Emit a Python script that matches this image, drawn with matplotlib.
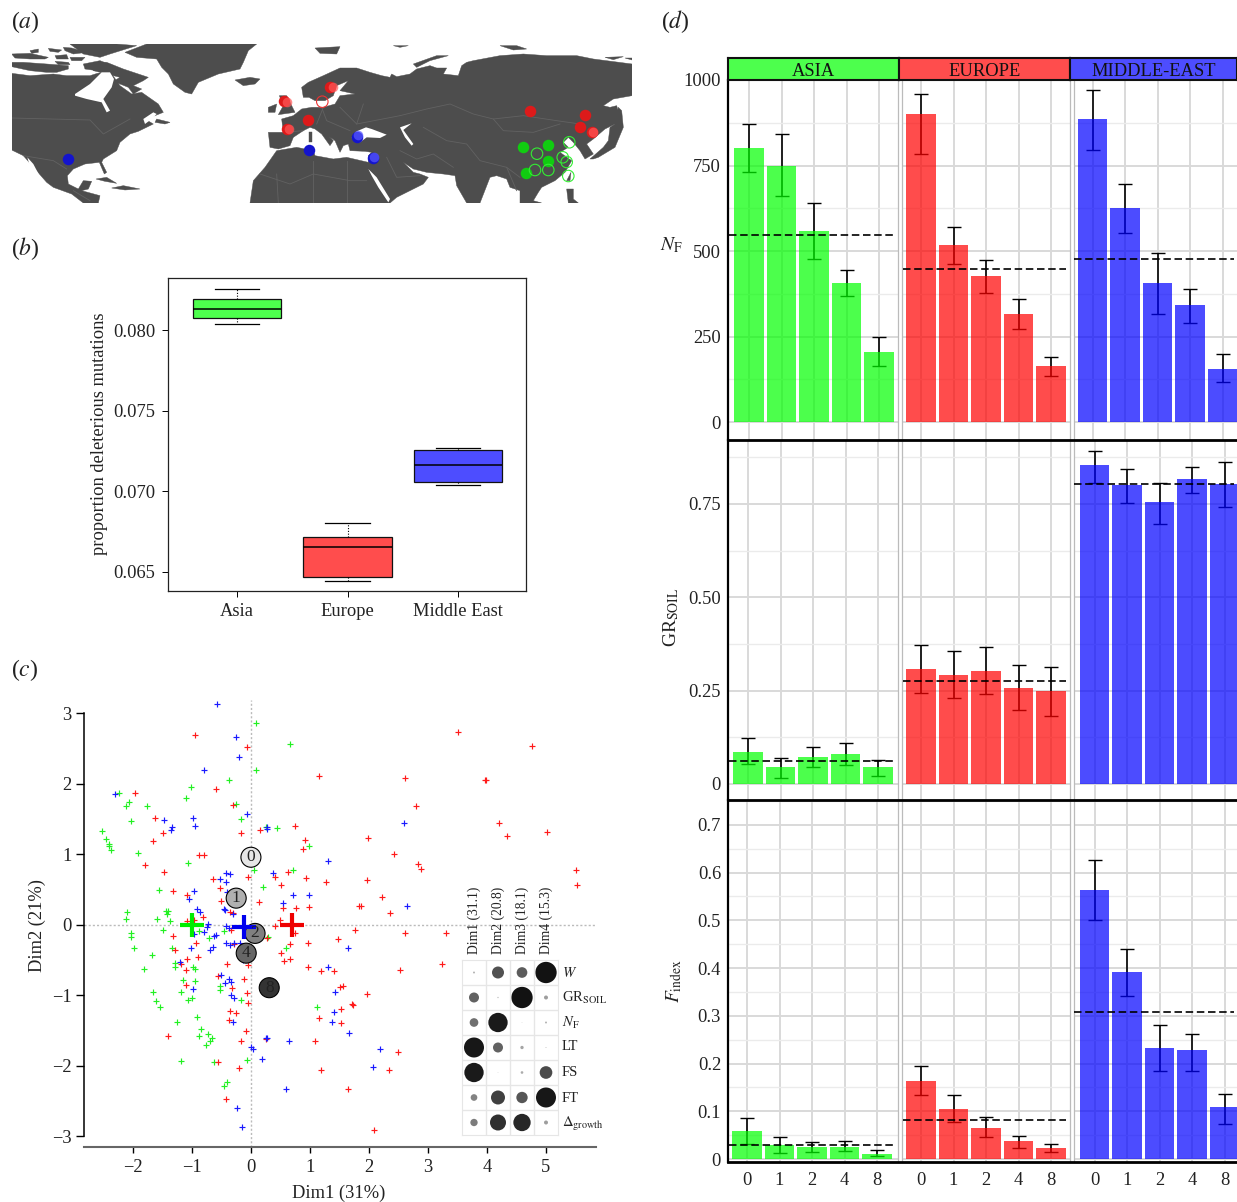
import numpy as np
import matplotlib
matplotlib.use("Agg")
import matplotlib.pyplot as plt
from matplotlib.lines import Line2D
from matplotlib.patches import Polygon

plt.rcParams["font.family"] = ["Liberation Serif", "DejaVu Serif"]
plt.rcParams["mathtext.fontset"] = "stix"
plt.rcParams["font.size"] = 13.3

W, H = 1237, 1202
GREEN, RED, BLUE = "#4dff4d", "#ff4d4d", "#4d4dff"
TXT = "#222222"

# (a) map outlines, traced at 3x from two crops of the picture (west and east part)
west_land = [
    [(5,88),(60,95),(130,90),(170,95),(240,95),(262,88),(300,82),(330,125),(365,150),(395,145),(445,180),(460,205),
     (435,215),(405,225),(430,240),(385,262),(360,270),(330,295),(320,320),(280,345),(275,355),(290,385),(283,390),
     (268,355),(225,360),(190,375),(172,395),(175,420),(205,435),(220,410),(245,412),(235,435),(215,440),(270,455),
     (265,477),(220,477),(185,450),(130,430),(110,415),(75,375),(40,335),(5,318)],
    [(5,30),(60,28),(115,40),(105,45),(60,45),(15,42)],
    [(60,20),(85,15),(85,25),(65,28)],
    [(115,13),(155,18),(145,25),(120,22)],
    [(135,35),(170,32),(175,45),(140,45)],
    [(160,10),(185,12),(230,25),(190,30),(165,20)],
    [(180,0),(320,0),(380,5),(300,30),(270,40),(220,30)],
    [(180,40),(225,40),(215,50),(185,50)],
    [(220,60),(270,50),(310,65),(340,85),(305,85),(260,80),(225,75)],
    [(5,55),(40,55),(110,60),(175,65),(175,75),(140,85),(110,85),(60,80),(5,68)],
    [(135,52),(175,55),(180,62),(145,62)],
    [(245,62),(290,55),(340,75),(415,100),(400,110),(370,125),(395,135),(370,150),(355,130),(310,112),(330,100),(290,90),(250,80)],
    [(250,110),(280,115),(275,125),(250,122)],
    [(440,225),(480,235),(465,240),(435,235)],
    [(258,405),(290,400),(320,418),(285,412)],
    [(305,432),(340,425),(390,435),(345,438)],
    [(345,25),(410,0),(740,0),(715,20),(700,55),(690,75),(625,90),(565,115),(545,150),(525,145),(490,120),(475,90),
     (455,70),(440,45),(380,40)],
    [(675,108),(720,100),(750,105),(735,120),(700,125)],
]
west_sea = [
    [(195,150),(240,120),(275,85),(300,85),(312,105),(305,130),(280,165),(300,200),(290,205),(275,175),(230,165),(195,155)],
    [(52,340),(70,360),(90,398),(85,402),(62,375)],
    [(400,225),(430,205),(440,210),(425,225),(405,240)],
]
west_borders = [[(5,222),(240,228),(280,270),(360,225)], [(40,335),(130,350),(170,375)], [(190,440),(240,470)]]
east_land = [
    [(185,130),(205,115),(250,95),(300,72),(350,72),(390,85),(425,95),(450,100),(455,90),(470,98),(510,90),(530,75),
     (570,65),(590,72),(620,72),(610,90),(655,95),(665,65),(680,55),(700,50),(780,35),(850,30),(920,35),(1010,35),
     (1060,45),(1176,60),(1176,155),(1120,165),(1090,185),(1110,190),(1130,185),(1145,235),(1125,240),(1095,255),
     (1060,285),(1040,300),(1060,330),(1035,345),(1020,320),(1000,295),(985,280),(970,295),(985,310),(960,325),
     (995,350),(975,385),(945,410),(905,430),(895,445),(880,470),(905,477),(840,477),(840,440),(810,430),(800,405),
     (770,395),(750,400),(720,477),(680,477),(650,425),(645,395),(610,390),(560,385),(520,375),(490,355),(520,385),
     (540,390),(565,400),(550,420),(470,460),(450,477),(30,477),(40,410),(75,370),(110,320),(170,310),(220,320),
     (225,335),(280,345),(320,340),(385,355),(385,335),(395,325),(375,322),(330,320),(325,300),(310,305),(300,325),
     (285,290),(250,265),(240,250),(280,290),(270,305),(245,270),(225,255),(210,250),(190,260),(160,280),(150,305),
     (115,315),(90,310),(85,265),(130,265),(125,225),(160,215),(185,195),(215,190),(250,190),(285,180),(300,155),
     (345,150),(300,140),(325,110),(290,125),(280,155),(255,170),(225,170),(207,160),(190,160)],
    [(118,155),(140,155),(165,205),(115,212),(130,185)],
    [(85,190),(110,180),(105,205),(85,205)],
    [(1050,345),(1090,310),(1105,290),(1110,250),(1125,240),(1135,190),(1145,200),(1150,250),(1125,310),(1075,340),(1060,345)],
    [(980,410),(993,385),(990,410)],
    [(980,435),(1000,435),(1000,465),(1015,477),(985,477)],
    [(208,265),(215,265),(215,295),(208,295)],
    [(520,60),(590,35),(625,35),(570,50),(530,70)],
    [(225,12),(300,8),(290,30),(240,28)],
    [(460,5),(505,5),(480,10)],
    [(780,5),(830,5),(860,15),(820,18)],
    [(1095,40),(1150,38),(1120,47)],
    [(1155,42),(1175,42),(1175,47)],
]
east_sea = [
    [(335,282),(350,262),(378,250),(395,255),(440,272),(420,282),(380,280),(360,295)],
    [(480,250),(515,238),(490,258),(520,300),(515,305),(495,280)],
    [(385,375),(410,400),(450,465),(445,475),(415,430),(395,395)],
]
east_borders = [[(480,215),(560,195),(630,180),(700,210),(760,225),(850,215),(950,230),(1020,240)],
                [(760,225),(790,260),(880,265),(960,240)], [(550,250),(620,290),(680,300),(720,350),(800,370),(840,400)],
                [(245,190),(260,230),(330,260)], [(300,190),(350,240),(480,215)], [(130,265),(190,260)],
                [(60,390),(150,420),(220,390),(330,410),(380,410)], [(110,390),(115,477)], [(220,350),(220,477)],
                [(320,350),(320,477)], [(480,320),(530,345),(580,330),(640,370)], [(800,370),(830,440)],
                [(250,190),(230,240)], [(350,240),(370,180)], [(440,340),(470,400),(540,395)]]
map_red = [(284,101),(330,87),(287,129),(307.7,120.3),(530,111),(585,115),(580.3,126.7),(592,132)]
map_red_light = [(287,102),(333,87),(289,129),(593,132)]
map_red_open = [(322.3,101.7)]
map_blue = [(68,159),(357,137),(309.3,149.7),(373.3,157.7)]
map_blue_light = [(358,135),(374,157)]
map_green = [(523.3,147.3),(548.3,144.7),(548,161.3),(525.7,173.3)]
map_green_open = [(569.3,142.3),(537,153.7),(562.7,157.3),(566.7,162),(535,170),(548.3,170),(568.3,176)]

# (b) boxplots
box_names = ["Asia", "Europe", "Middle East"]
box_q1 = [0.08075, 0.06463, 0.07055]
box_med = [0.0813, 0.0665, 0.0716]
box_q3 = [0.08193, 0.06712, 0.07255]
box_lo = [0.08037, 0.06444, 0.07035]
box_hi = [0.08255, 0.0680, 0.07267]

# (c) individuals on the first two dimensions
pca_blue_x = [-.57,-.25,-.20,-.80,-2.31,-.06,-.98,-1.47,-.94,-1.33,-1.36,.27,.28,1.31,-.43,-.35,.38,-.53,-.42,-.41,-.97,-1.05,.71,.99,.54,-.91,-.86,-.46,-.44,-.31,-.72,-.75,-.80,-.43,-.38,-.97,-.60,-.63,1.65,-1.02,-.65,-.43,-.36,-.29,-.19,-.69,-1.21,-.14,1.30,-.51,-.37,-.44,-.33,-.99,1.42,-.34,-.28,1.41,1.37,-.30,1.66,.25,.27,.65,0,.03,.19,.59,-.23,-.15,2.59,2.65,2.18,2.07]
pca_blue_y = [3.13,2.66,2.38,2.20,1.86,1.57,1.51,1.49,1.40,1.39,1.35,1.39,1.36,.91,.74,.72,.73,.65,.61,.47,.48,.37,.43,.43,.31,.22,.18,.22,.21,.15,.01,-.03,-.10,-.01,-.05,-.13,-.14,-.16,-.32,-.32,-.31,-.26,-.28,-.25,-.25,-.35,-.53,-.50,-.60,-.71,-.77,-.82,-.81,-.91,-.95,-.99,-1.03,-1.23,-1.38,-1.38,-1.53,-1.61,-1.60,-1.64,-1.73,-1.76,-1.90,-2.33,-2.60,-2.86,1.45,.27,-1.76,-2.01]
pca_green_x = [.09,.66,.08,-.38,-1.02,-2.24,-1.10,-2.06,-2.12,-1.76,-.26,-.16,-2.03,.25,.45,-2.52,-2.45,-2.41,-2.41,-2.38,.99,-1.91,-1.07,.05,.72,-1.56,.20,-2.10,-1.44,-1.41,-1.42,-2.12,-1.59,-1.37,-1.49,-.88,-2.03,-2.03,-.71,-.46,-1.98,-1.33,.29,.60,-1.28,-1.28,-1.81,-.99,-.94,-1.68,-1.15,-.95,-.52,-.52,-1.66,-1.18,-1.0,-1.07,-1.61,-.17,-1.55,1.12,-.91,-1.25,-.84,-.88,-.72,-.66,-.70,-.77,-1.18,-.62,-.07,-.41,-.45]
pca_green_y = [2.87,2.56,2.20,2.06,1.95,1.87,1.80,1.75,1.68,1.69,1.72,1.50,1.47,1.39,1.38,1.33,1.22,1.15,1.12,1.06,1.12,1.02,.88,.78,.78,.50,.54,.18,.20,.20,.16,.08,.08,.06,-.07,-.09,-.12,-.17,-.19,-.09,-.32,-.33,-.17,-.33,-.54,-.59,-.63,-.60,-.63,-.43,-.78,-.79,-.86,-.92,-.95,-.95,-1.04,-1.07,-1.08,-1.07,-1.17,-1.16,-1.31,-1.38,-1.47,-1.58,-1.55,-1.61,-1.64,-1.70,-1.93,-1.95,-1.91,-2.23,-2.28]
pca_red_x = [-.95,-.06,1.16,-.59,-1.97,-.30,-1.62,.74,-.16,.15,-1.49,.91,-1.66,.89,-.88,-.80,-1.79,-1.47,-.05,-.64,.62,.41,.93,1.28,.51,-.53,-1.32,-1.09,-.50,.13,.55,.76,.98,-.36,-.31,-.82,.50,-1.09,-.96,.41,1.76,.75,-1.32,-.33,.28,-.93,1.48,.97,.66,-.28,1.83,-1.29,.51,.56,.67,-1.09,-.90,-1.18,-.41,-.05,.96,1.19,1.41,-1.10,-.56,-1.10,-.11,-.32,1.51,1.56,-.06,-.05,1.71,1.73,1.53,-.35,-.25,1.15,-.38,1.52,-.09,-1.41,-.16,.25,1.08,-.56,-.21,1.19,1.65,-.42,3.51,4.77,2.61,3.97,3.98,2.80,4.21,4.34,5.02,1.99,2.42,2.84,2.88,1.96,5.51,5.53,2.22,1.86,2.35,2.61,3.31,2.52,3.24,1.96,2.50,2.34,2.08]
pca_red_y = [2.70,2.53,2.11,1.93,1.87,1.70,1.51,1.41,1.30,1.34,1.30,1.21,1.19,1.07,.99,.99,.85,.75,.68,.65,.75,.68,.66,.61,.56,.53,.48,.43,.34,.32,.24,.24,.26,.18,.17,.11,.07,.06,.07,-.02,-.07,-.12,-.16,-.07,-.18,-.25,-.20,-.26,-.27,-.27,.27,-.36,-.40,-.51,-.49,-.49,-.45,-.55,-.55,-.57,-.60,-.65,-.66,-.64,-.73,-.85,-.77,-.89,-.88,-.87,-.96,-1.11,-1.12,-1.13,-1.19,-1.22,-1.25,-1.32,-1.35,-1.39,-1.51,-1.57,-1.65,-1.62,-1.65,-1.95,-2.03,-2.05,-2.32,-2.47,2.73,2.54,2.09,2.06,2.05,1.69,1.45,1.26,1.32,1.23,1.00,.86,.79,.64,.78,.56,.40,.27,.17,-.12,-.11,-.64,-.56,-.98,-1.80,-2.06,-2.91]
centroid_x = [-1.0, -.12, .70]
centroid_y = [0.0, -.03, 0.0]
centroid_colors = ["#00ee00", "#0000ee", "#ee0000"]
dose_labels = ["0", "1", "2", "4", "8"]
dose_x = [0.0, -.25, .07, -.08, .31]
dose_y = [.96, .38, -.12, -.40, -.89]
dose_grey = ["#e6e6e6", "#b0b0b0", "#808080", "#666666", "#333333"]

# (c) inset, variable contributions per dimension
dim_labels = ["Dim1 (31.1)", "Dim2 (20.8)", "Dim3 (18.1)", "Dim4 (15.3)"]
var_labels = [r"$\mathit{W}$", r"GR$_{\mathrm{SOIL}}$", r"$\mathit{N}_{\mathrm{F}}$", "LT", "FS", "FT", r"$\Delta_{\mathrm{growth}}$"]
contrib = [[3, 18, 16, 32],
           [15, 2, 32, 6],
           [13, 29, 1, 3],
           [30, 15, 5, 1.5],
           [29, 1, 4, 19],
           [10, 21, 17, 30],
           [11, 24, 26, 6]]

# (d) bars per region and dose
doses = ["0", "1", "2", "4", "8"]
regions = ["ASIA", "EUROPE", "MIDDLE-EAST"]
nf_val = [[801, 749, 558, 406, 205], [900, 518, 427, 316, 164], [886, 626, 406, 342, 155]]
nf_hi = [[871, 842, 640, 444, 249], [959, 570, 474, 360, 190], [971, 696, 494, 389, 199]]
nf_lo = [[731, 661, 477, 368, 164], [784, 462, 377, 272, 135], [795, 553, 316, 289, 117]]
nf_mean = [547, 447, 477]
gr_val = [[.086, .046, .072, .080, .046], [.308, .292, .303, .257, .249], [.855, .801, .755, .817, .804]]
gr_hi = [[.123, .070, .099, .110, .064], [.372, .356, .367, .319, .313], [.892, .844, .806, .849, .863]]
gr_lo = [[.054, .016, .046, .051, .021], [.244, .230, .241, .198, .182], [.806, .753, .697, .780, .742]]
gr_mean = [.062, .276, .804]
fi_val = [[.059, .029, .025, .026, .011], [.164, .105, .065, .038, .023], [.564, .392, .233, .229, .109]]
fi_hi = [[.086, .046, .036, .038, .019], [.195, .134, .088, .048, .031], [.627, .440, .281, .262, .136]]
fi_lo = [[.031, .013, .015, .017, .006], [.134, .078, .046, .023, .015], [.501, .342, .185, .185, .073]]
fi_mean = [.030, .082, .308]


def px_axes(x0, y0, x1, y1, **kw):
    return fig.add_axes([x0 / W, 1 - y1 / H, (x1 - x0) / W, (y1 - y0) / H], **kw)


def px_text(x, y, s, **kw):
    kw.setdefault("color", TXT)
    kw.setdefault("va", "center")
    fig.text(x / W, 1 - y / H, s, **kw)


def from_crop(points, x0):
    # crop coordinates (3x) back to picture pixels
    return [(x0 + px / 3, 44 + py / 3) for px, py in points]


fig = plt.figure(figsize=(W / 100, H / 100), dpi=100)

for x, y, s in [(11, 22, "a"), (11, 249, "b"), (11, 670, "c"), (661, 22, "d")]:
    px_text(x, y, "($\\mathit{%s}$)" % s, fontsize=17, ha="left")

# (a)
ax = px_axes(12, 44, 632, 203)
ax.set_xlim(12, 632)
ax.set_ylim(203, 44)
ax.axis("off")
LAND = "#4d4d4d"
for x0, lands, seas, borders in [(10, west_land, west_sea, west_borders), (240, east_land, east_sea, east_borders)]:
    for poly in lands:
        ax.add_patch(Polygon(from_crop(poly, x0), closed=True, fc=LAND, ec=LAND, lw=0.3))
    for poly in seas:
        ax.add_patch(Polygon(from_crop(poly, x0), closed=True, fc="white", ec="none"))
    for line in borders:
        xs, ys = zip(*from_crop(line, x0))
        ax.plot(xs, ys, color="#626262", lw=0.6)
s_map = (11.5 * 0.72) ** 2
for pts, col in [(map_red, "#dd1a1a"), (map_blue, "#1414cc"), (map_green, "#11cc11")]:
    xs, ys = zip(*pts)
    ax.scatter(xs, ys, s=s_map, c=col, lw=0, zorder=3)
for pts, col in [(map_red_light, "#ff5a5a"), (map_blue_light, "#5a5aff")]:
    xs, ys = zip(*pts)
    ax.scatter(xs, ys, s=s_map * 0.7, c=col, lw=0, alpha=0.7, zorder=3)
for pts, col in [(map_red_open, "#ee3333"), (map_green_open, "#33ee33")]:
    xs, ys = zip(*pts)
    ax.scatter(xs, ys, s=s_map, facecolors="none", edgecolors=col, lw=0.8, zorder=3)

# (b)
ax = px_axes(168, 278, 526, 590.5)
stats = [dict(q1=a, med=b, q3=c, whislo=d, whishi=e, fliers=[])
         for a, b, c, d, e in zip(box_q1, box_med, box_q3, box_lo, box_hi)]
art = ax.bxp(stats, positions=[1, 2, 3], widths=0.8, patch_artist=True,
             medianprops=dict(color="black", lw=1.1),
             whiskerprops=dict(color="black", lw=0.8, ls=(0, (1, 1.5))),
             capprops=dict(color="black", lw=0.9),
             boxprops=dict(lw=0.9), showfliers=False)
for patch, col in zip(art["boxes"], [GREEN, RED, BLUE]):
    patch.set_facecolor(col)
    patch.set_edgecolor("#111111")
ax.set_xlim(0.3756, 3.615)
ax.set_ylim(0.06382, 0.08324)
ax.set_yticks([0.065, 0.070, 0.075, 0.080])
ax.set_yticklabels(["0.065", "0.070", "0.075", "0.080"], color=TXT)
ax.set_xticks([1, 2, 3])
ax.set_xticklabels(box_names, color=TXT)
ax.tick_params(length=4, width=0.7, pad=5)
for sp in ax.spines.values():
    sp.set_linewidth(0.9)
    sp.set_color("#222222")
px_text(100, 434, "proportion deleterious mutations", rotation=90, ha="center")

# (c)
ax = px_axes(84, 700, 596, 1147)
ax.set_xlim(-2.83, 5.85)
ax.set_ylim(-3.149, 3.19)
ax.axhline(0, color="#bbbbbb", lw=1, ls=(0, (1.5, 1.5)), zorder=1)
ax.axvline(0, color="#bbbbbb", lw=1, ls=(0, (1.5, 1.5)), zorder=1)
for xs, ys, col in [(pca_green_x, pca_green_y, "#22f022"), (pca_red_x, pca_red_y, "#ff1a1a"),
                    (pca_blue_x, pca_blue_y, "#1a1aff")]:
    ax.scatter(xs, ys, marker="+", s=25, c=col, lw=0.85, zorder=2)
ax.scatter(dose_x, dose_y, s=(20 * 0.72) ** 2, c=dose_grey, edgecolors="black", lw=0.8, zorder=3)
for x, y, s in zip(dose_x, dose_y, dose_labels):
    ax.text(x, y, s, ha="center", va="center", fontsize=12.5, color="#222222", zorder=5)
ax.scatter(centroid_x, centroid_y, marker="+", s=(24 * 0.72) ** 2, c=centroid_colors, lw=3, zorder=4)
ax.spines["top"].set_visible(False)
ax.spines["right"].set_visible(False)
ax.spines["left"].set_bounds(-3, 3)
ax.spines["left"].set_linewidth(1.1)
ax.spines["bottom"].set_color("#666666")
ax.spines["bottom"].set_linewidth(1.5)
ax.set_xticks(range(-2, 6))
ax.set_xticklabels(["\u2212%d" % -v if v < 0 else str(v) for v in range(-2, 6)], color=TXT)
ax.set_yticks(range(-3, 4))
ax.set_yticklabels(["\u2212%d" % -v if v < 0 else str(v) for v in range(-3, 4)], color=TXT)
ax.tick_params(axis="y", length=6, width=1, pad=3)
ax.tick_params(axis="x", length=4, width=1, pad=5)
px_text(339, 1193, "Dim1 (31%)", ha="center")
px_text(37, 925, "Dim2 (21%)", rotation=90, ha="center")

# (c) inset
ins = px_axes(462, 960, 558, 1135)
ins.patch.set_alpha(0)
ins.set_xlim(0, 4)
ins.set_ylim(7, 0)
ins.set_xticks([])
ins.set_yticks([])
for sp in ins.spines.values():
    sp.set_color("#e6e6e6")
for i in range(1, 4):
    ins.axvline(i, color="#e6e6e6", lw=1)
for i in range(1, 7):
    ins.axhline(i, color="#e6e6e6", lw=1)
vals = np.array(contrib, dtype=float)
cols, rows = np.meshgrid(np.arange(4) + 0.5, np.arange(7) + 0.5)
greys = [str(round(0.72 * (1 - v / 32) ** 1.3 + 0.07, 3)) for v in vals.ravel()]
ins.scatter(cols.ravel(), rows.ravel(), s=(2 * vals.ravel() / 3 * 0.72) ** 2, c=greys, lw=0, clip_on=False)
for x, s in zip([474, 498, 522, 546], dim_labels):
    px_text(x, 954, s, rotation=90, ha="center", va="bottom", fontsize=9.8)
for y, s in zip([973, 998, 1023, 1047, 1073, 1098, 1124], var_labels):
    px_text(562, y, s, ha="left", fontsize=10.5)

# (d)
col_edges = [(728, 898), (902, 1069.5), (1073.5, 1237)]
first_bar = [[749, 921, 1092.5], [748, 921, 1094.5], [747, 921, 1094.5]]
row_edges = [(80, 440), (440, 800), (800, 1162)]
row_limits = [(-52.6, 1000), (-0.043, 0.9214), (-0.006, 0.752)]
row_major = [[0, 250, 500, 750, 1000], [0, .25, .5, .75], [0, .1, .2, .3, .4, .5, .6, .7]]
row_minor = [[125, 375, 625, 875], [.125, .375, .625, .875], [.05, .15, .25, .35, .45, .55, .65, .75]]
row_ticklabels = [["0", "250", "500", "750", "1000"], ["0", "0.25", "0.50", "0.75"],
                  ["0", "0.1", "0.2", "0.3", "0.4", "0.5", "0.6", "0.7"]]
tables = [(nf_val, nf_hi, nf_lo, nf_mean), (gr_val, gr_hi, gr_lo, gr_mean), (fi_val, fi_hi, fi_lo, fi_mean)]
bar_colors = ["#00ff00", "#ff0000", "#0000ff"]
pos = np.arange(5)
step = 32.5

for r, (y0, y1) in enumerate(row_edges):
    val, hi, lo, mean = tables[r]
    for c, (x0, x1) in enumerate(col_edges):
        ax = px_axes(x0, y0, x1, y1)
        xlim = ((x0 - first_bar[r][c]) / step, (x1 - first_bar[r][c]) / step)
        ax.set_xlim(*xlim)
        ax.set_ylim(*row_limits[r])
        ax.set_axisbelow(True)
        ax.set_yticks(row_major[r])
        ax.set_yticks(row_minor[r], minor=True)
        ax.set_xticks(pos)
        ax.grid(True, which="major", color="#d9d9d9", lw=1.4)
        ax.grid(True, which="minor", axis="y", color="#ebebeb", lw=1)
        err_low = np.array(val[c]) - np.array(lo[c])
        err_high = np.array(hi[c]) - np.array(val[c])
        ax.errorbar(pos, val[c], yerr=[err_low, err_high], fmt="none", ecolor="black",
                    elinewidth=1.2, capsize=4.7, capthick=1.0, zorder=2)
        ax.bar(pos, val[c], width=0.9, color=bar_colors[c], alpha=0.7, lw=0, zorder=3)
        ax.plot([xlim[0] + 0.02, xlim[1] - 0.1], [mean[c], mean[c]], color="black", lw=1.2,
                ls=(0, (4.5, 2.2)), zorder=4)
        ax.tick_params(which="both", length=0)
        ax.tick_params(axis="y", which="major", pad=5)
        if c == 0:
            ax.set_yticklabels(row_ticklabels[r], color=TXT)
        else:
            ax.tick_params(axis="y", labelleft=False)
        if r == 2:
            ax.set_xticklabels(doses, color=TXT)
            ax.tick_params(axis="x", pad=7)
        else:
            ax.tick_params(axis="x", labelbottom=False)
        for sp in ax.spines.values():
            sp.set_visible(False)
        ax.spines["left"].set_visible(True)
        ax.spines["left"].set_color("black" if c == 0 else "#bbbbbb")
        ax.spines["left"].set_linewidth(1.6 if c == 0 else 0.9)
        if c < 2:
            ax.spines["right"].set_visible(True)
            ax.spines["right"].set_color("#bbbbbb")
            ax.spines["right"].set_linewidth(0.9)

# row separators run unbroken across the three columns
for _, y in row_edges:
    fig.add_artist(Line2D([728 / W, 1], [1 - y / H, 1 - y / H], color="black", lw=2))

for (x0, x1), name, col in zip([(728, 899), (899, 1069.5), (1069.5, 1237)], regions, [GREEN, RED, BLUE]):
    strip = px_axes(x0, 58, x1, 80)
    strip.set_xticks([])
    strip.set_yticks([])
    strip.set_facecolor(col)
    strip.text(0.5, 0.38, name, transform=strip.transAxes, ha="center", va="center", color="#111111", fontsize=13.3)
    for sp in strip.spines.values():
        sp.set_linewidth(1.5)
        sp.set_color("#111111")

px_text(671, 245, r"$\mathit{N}_{\mathrm{F}}$", ha="center", fontsize=14)
px_text(671, 617, r"GR$_{\mathrm{SOIL}}$", rotation=90, ha="center", fontsize=14)
px_text(674, 981, r"$\mathit{F}_{\mathrm{index}}$", rotation=90, ha="center", fontsize=14)

fig.savefig("out.png", dpi=100)
